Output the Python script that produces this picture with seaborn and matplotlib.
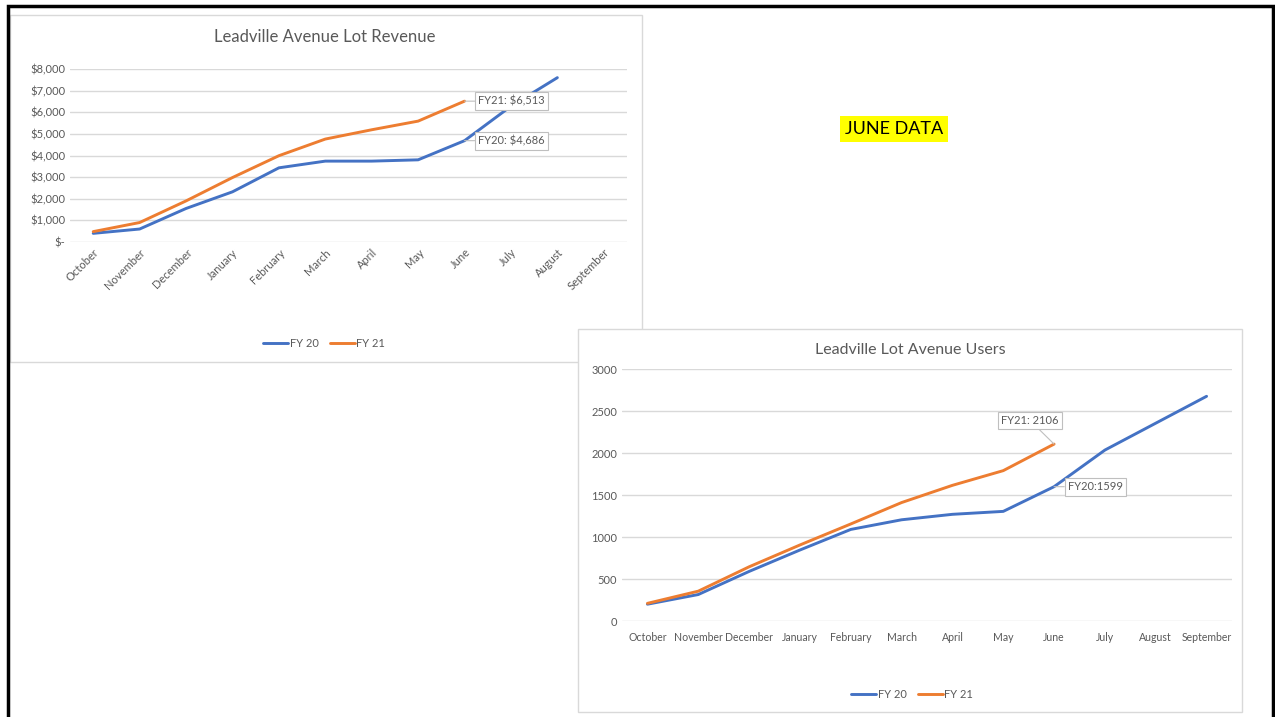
import numpy as np
import pandas as pd
import matplotlib
matplotlib.use("Agg")
import matplotlib.pyplot as plt
from matplotlib.patches import Rectangle
from matplotlib.ticker import FuncFormatter
import seaborn as sns

# data
months = ["October", "November", "December", "January", "February", "March",
          "April", "May", "June", "July", "August", "September"]
series_names = ["FY 20", "FY 21"]
fy20_revenue = [400, 600, 1550, 2320, 3430, 3740, 3740, 3800, 4686, 6280, 7600]
fy21_revenue = [480, 900, 1900, 2980, 3990, 4760, 5190, 5590, 6513]
fy20_users = [200, 315, 590, 845, 1090, 1205, 1270, 1305, 1599, 2035, 2355, 2675]
fy21_users = [210, 355, 645, 905, 1155, 1410, 1615, 1790, 2106]

BLUE = "#4472C4"
ORANGE = "#ED7D31"
GRAY_TXT = "#595959"
GRID = "#D9D9D9"

sns.set_theme(style="white")
plt.rcParams["font.family"] = ["Lato", "DejaVu Sans"]

W, H = 1275, 717
fig = plt.figure(figsize=(12.75, 7.17), dpi=100)
fig.patch.set_facecolor("white")


def fx(px):
    return px / W


def fy(py):
    return 1 - py / H


def long_frame(a, b):
    rows = []
    for name, vals in zip(series_names, [a, b]):
        for i, v in enumerate(vals):
            rows.append({"month": i, "value": v, "series": name})
    return pd.DataFrame(rows)


def style_axes(ax, ymax, step):
    ax.set_xlim(-0.5, 11.5)
    ax.set_ylim(0, ymax)
    ax.set_yticks(np.arange(0, ymax + 1, step))
    ax.set_xticks(range(len(months)))
    ax.grid(axis="y", color=GRID, linewidth=1)
    ax.set_axisbelow(True)
    for s in ax.spines.values():
        s.set_visible(False)
    ax.tick_params(axis="both", length=0, colors=GRAY_TXT, labelsize=8)
    ax.set_xlabel("")
    ax.set_ylabel("")
    ax.set_facecolor("none")


def callout(ax, text, xy, offset):
    ax.annotate(text, xy=xy, xytext=offset, textcoords="offset points",
                fontsize=8, color=GRAY_TXT, ha="left", va="center",
                bbox=dict(boxstyle="square,pad=0.3", fc="white", ec="#BFBFBF", lw=0.8),
                arrowprops=dict(arrowstyle="-", color="#BFBFBF", lw=0.8,
                                shrinkA=0, shrinkB=0))


def add_legend(ax, px, py):
    ax.legend(loc="center", bbox_to_anchor=(fx(px), fy(py)), bbox_transform=fig.transFigure,
              ncol=2, frameon=False, fontsize=8, handlelength=2.3, handletextpad=0.1,
              columnspacing=1.0, labelcolor=GRAY_TXT)


# panels
fig.patches.append(Rectangle((fx(10), fy(362)), fx(642 - 10), (362 - 15) / H,
                             transform=fig.transFigure, fc="white", ec=GRID,
                             lw=1, zorder=-2))
fig.patches.append(Rectangle((fx(578), fy(712)), fx(1242 - 578), (712 - 329) / H,
                             transform=fig.transFigure, fc="white", ec=GRID,
                             lw=1, zorder=1))

# revenue chart
ax1 = fig.add_axes([fx(70), fy(242), fx(627 - 70), (242 - 69) / H], zorder=0)
rev = long_frame(fy20_revenue, fy21_revenue)
sns.lineplot(data=rev, x="month", y="value", hue="series", palette=[BLUE, ORANGE],
             linewidth=2.1, ax=ax1, legend=True)
style_axes(ax1, 8000, 1000)
ax1.set_xticklabels(months, rotation=45, ha="right", rotation_mode="anchor")
ax1.yaxis.set_major_formatter(FuncFormatter(lambda v, p: "$-" if v == 0 else f"${v:,.0f}"))
callout(ax1, f"FY21: ${fy21_revenue[8]:,}", (8, fy21_revenue[8]), (10, 0))
callout(ax1, f"FY20: ${fy20_revenue[8]:,}", (8, fy20_revenue[8]), (10, 0))
add_legend(ax1, 324, 343)
fig.text(fx(325), fy(37), "Leadville Avenue Lot Revenue", ha="center", va="center",
         fontsize=12, color=GRAY_TXT)

# users chart
ax2 = fig.add_axes([fx(622), fy(621), fx(1232 - 622), (621 - 369) / H], zorder=2)
usr = long_frame(fy20_users, fy21_users)
sns.lineplot(data=usr, x="month", y="value", hue="series", palette=[BLUE, ORANGE],
             linewidth=2.1, ax=ax2, legend=True)
style_axes(ax2, 3000, 500)
ax2.set_xticklabels(months)
ax2.tick_params(axis="x", pad=8, labelsize=7.6)
callout(ax2, f"FY21: {fy21_users[8]}", (8, fy21_users[8]), (-38, 17))
callout(ax2, f"FY20:{fy20_users[8]}", (8, fy20_users[8]), (10, 0))
add_legend(ax2, 912, 694)
fig.text(fx(910), fy(350), "Leadville Lot Avenue Users", ha="center", va="center",
         fontsize=11.5, color=GRAY_TXT, zorder=3)

# slide label
fig.text(fx(894), fy(129), "JUNE DATA", ha="center", va="center", fontsize=13,
         color="black", bbox=dict(boxstyle="square,pad=0.28", fc="#FFFF00", ec="none"))

# slide border
fig.patches.append(Rectangle((fx(8), -0.01), fx(1273 - 8), fy(6) + 0.01,
                             transform=fig.transFigure, fc="none", ec="black",
                             lw=2.5, zorder=5))

fig.savefig("out.png", dpi=100)
